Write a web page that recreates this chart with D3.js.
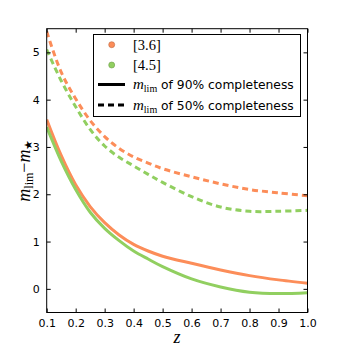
<!DOCTYPE html>
<html>
  <head>
    <meta http-equiv="Content-Type" content="text/html; charset=UTF-8" />
    <title>Limiting magnitude vs redshift</title>
    <style>
      body { margin: 0; background: #fff; }
      svg text { font-family: "DejaVu Sans", sans-serif; }
      .math { font-family: "Liberation Serif", "DejaVu Serif", serif; }
    </style>
  </head>
  <body>
    <div id="chart"></div>
    <script src="https://cdnjs.cloudflare.com/ajax/libs/d3/7.8.5/d3.min.js"></script>
    <script>
// redshift grid shared by all curves
const zGrid  = [0.1, 0.15, 0.2, 0.25, 0.3, 0.35, 0.4, 0.45, 0.5, 0.6, 0.7, 0.8, 0.9, 1.0];
const ch1_90 = [3.58, 2.82, 2.20, 1.74, 1.40, 1.14, 0.94, 0.80, 0.69, 0.54, 0.40, 0.28, 0.19, 0.12];
const ch2_90 = [3.42, 2.70, 2.10, 1.62, 1.28, 1.02, 0.80, 0.63, 0.47, 0.21, 0.04, -0.07, -0.10, -0.08];
const ch1_50 = [5.44, 4.58, 4.02, 3.56, 3.22, 2.97, 2.79, 2.66, 2.54, 2.37, 2.22, 2.10, 2.03, 1.97];
const ch2_50 = [5.06, 4.40, 3.85, 3.37, 3.02, 2.78, 2.60, 2.42, 2.25, 1.95, 1.73, 1.64, 1.64, 1.66];
const xTicks = [0.1, 0.2, 0.3, 0.4, 0.5, 0.6, 0.7, 0.8, 0.9, 1.0];
const yTicks = [0, 1, 2, 3, 4, 5];
const bandNames = ['[3.6]', '[4.5]'];

const orange = '#fc8d59', green = '#91cf60';

const W = 360, H = 360,
      margin = {top: 28.7, right: 52.5, bottom: 47.5, left: 46.7},
      iw = W - margin.left - margin.right,
      ih = H - margin.top - margin.bottom;

const svg = d3.select('#chart').append('svg')
  .attr('width', W).attr('height', H);
const g = svg.append('g').attr('transform', `translate(${margin.left},${margin.top})`);

const x = d3.scaleLinear().domain([0.1, 1.0]).range([0, iw]);
const y = d3.scaleLinear().domain([-0.5, 5.5]).range([ih, 0]);

g.append('defs').append('clipPath').attr('id', 'clip')
  .append('rect').attr('width', iw).attr('height', ih);

const line = d3.line()
  .x((d, i) => x(zGrid[i]))
  .y(d => y(d))
  .curve(d3.curveCatmullRom.alpha(0.5));

const series = [
  {vals: ch1_50, color: orange, dash: '6,4'},
  {vals: ch2_50, color: green, dash: '6,4'},
  {vals: ch1_90, color: orange, dash: null},
  {vals: ch2_90, color: green, dash: null}
];

const curves = g.append('g').attr('clip-path', 'url(#clip)');
series.forEach(s => {
  curves.append('path')
    .attr('d', line(s.vals))
    .attr('fill', 'none')
    .attr('stroke', s.color)
    .attr('stroke-width', 3)
    .attr('stroke-dasharray', s.dash);
});

// axes, ticks pointing inward on all four sides
const axB = g.append('g').attr('transform', `translate(0,${ih})`)
  .call(d3.axisBottom(x).tickValues(xTicks).tickFormat(d3.format('.1f')).tickSizeInner(-4).tickSizeOuter(0).tickPadding(7));
const axT = g.append('g')
  .call(d3.axisTop(x).tickValues(xTicks).tickFormat('').tickSizeInner(-4).tickSizeOuter(0));
const axL = g.append('g')
  .call(d3.axisLeft(y).tickValues(yTicks).tickFormat(d3.format('d')).tickSizeInner(-4).tickSizeOuter(0).tickPadding(7));
const axR = g.append('g').attr('transform', `translate(${iw},0)`)
  .call(d3.axisRight(y).tickValues(yTicks).tickFormat('').tickSizeInner(-4).tickSizeOuter(0));
[axB, axT, axL, axR].forEach(a => {
  a.select('.domain').remove();
  a.selectAll('text').attr('font-size', 11).attr('fill', '#000');
  a.selectAll('line').attr('stroke', '#000');
});

g.append('rect').attr('width', iw).attr('height', ih)
  .attr('fill', 'none').attr('stroke', '#000').attr('stroke-width', 1);

// legend
const lg = svg.append('g');
lg.append('rect')
  .attr('x', 93.5).attr('y', 34.5).attr('width', 207).attr('height', 82)
  .attr('fill', '#fff').attr('stroke', '#000').attr('stroke-width', 1);

const rows = [44.7, 65, 84.5, 105];
[orange, green].forEach((c, i) => {
  lg.append('circle').attr('cx', 111.7).attr('cy', rows[i]).attr('r', 3)
    .attr('fill', c).attr('stroke', d3.color(c).darker(0.8)).attr('stroke-width', 0.6);
  lg.append('text').attr('class', 'math').attr('x', 133).attr('y', rows[i] + 5)
    .attr('font-size', 14.5).text(bandNames[i]);
});
[{dash: null, pct: '90%'}, {dash: '6,4', pct: '50%'}].forEach((d, i) => {
  const yy = rows[i + 2];
  lg.append('line').attr('x1', 98).attr('x2', 125).attr('y1', yy).attr('y2', yy)
    .attr('stroke', '#000').attr('stroke-width', 3).attr('stroke-dasharray', d.dash);
  const t = lg.append('text').attr('x', 133).attr('y', yy + 4.5).attr('font-size', 12.3);
  t.append('tspan').attr('class', 'math').attr('font-style', 'italic').attr('font-size', 15).text('m');
  t.append('tspan').attr('class', 'math').attr('font-size', 10).attr('dy', 3).text('lim');
  t.append('tspan').attr('dy', -3).text(` of ${d.pct} completeness`);
});

// axis labels
svg.append('text').attr('class', 'math')
  .attr('x', margin.left + iw / 2).attr('y', 343)
  .attr('text-anchor', 'middle').attr('font-style', 'italic').attr('font-size', 18)
  .text('z');

const yl = svg.append('text').attr('class', 'math')
  .attr('transform', `translate(30,${margin.top + ih / 2}) rotate(-90)`)
  .attr('text-anchor', 'middle').attr('font-size', 18);
yl.append('tspan').attr('font-style', 'italic').text('m');
yl.append('tspan').attr('font-size', 12).attr('dy', 3).text('lim');
yl.append('tspan').attr('dy', -3).text('\u2212');
yl.append('tspan').attr('font-style', 'italic').text('m');
yl.append('tspan').attr('font-size', 11).attr('dy', 2).text('\u2605');
    </script>
  </body>
</html>
